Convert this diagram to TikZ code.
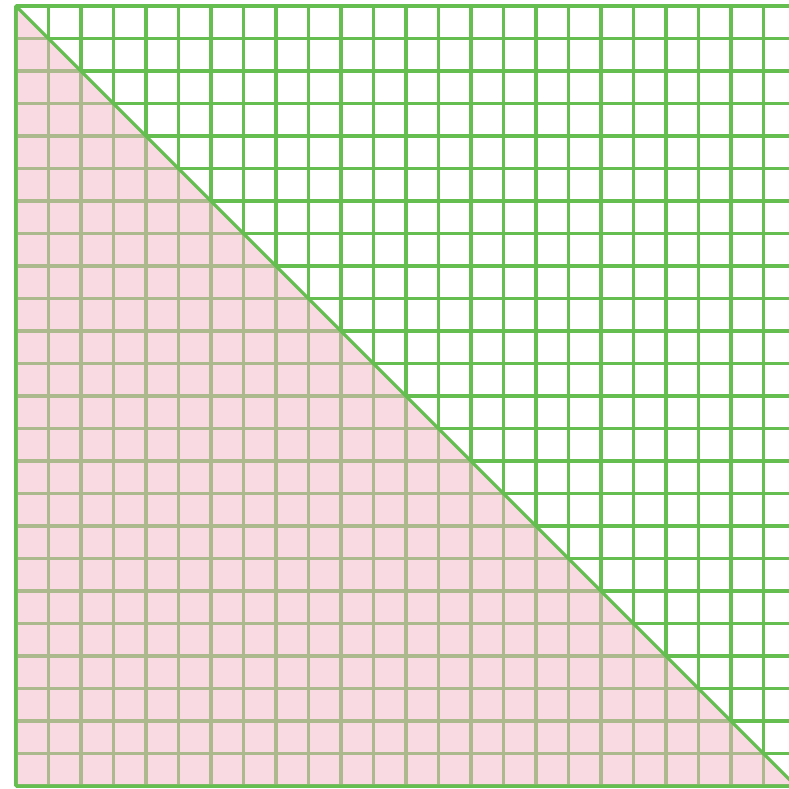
\documentclass[tikz,border=0pt]{standalone}
\definecolor{gridgreen}{RGB}{100,190,80}
\definecolor{halfpink}{RGB}{244,182,200}
\begin{document}
\begin{tikzpicture}[x=5mm,y=5mm]
	\clip(-0.492,-0.062)rectangle(23.785,24.185);
	\draw[gridgreen,line width=1.4pt,step=5mm](0,0)grid(25,24);
	\coordinate(A)at(0,24);
	\coordinate(B)at(0,0);
	\coordinate(C)at(24,0);
	\fill[halfpink,fill opacity=.5](A)--(B)--(C)--cycle;
	\draw[gridgreen,line width=1.4pt,line join=round](A)--(B)--(C)--cycle;
\end{tikzpicture}
\end{document}
